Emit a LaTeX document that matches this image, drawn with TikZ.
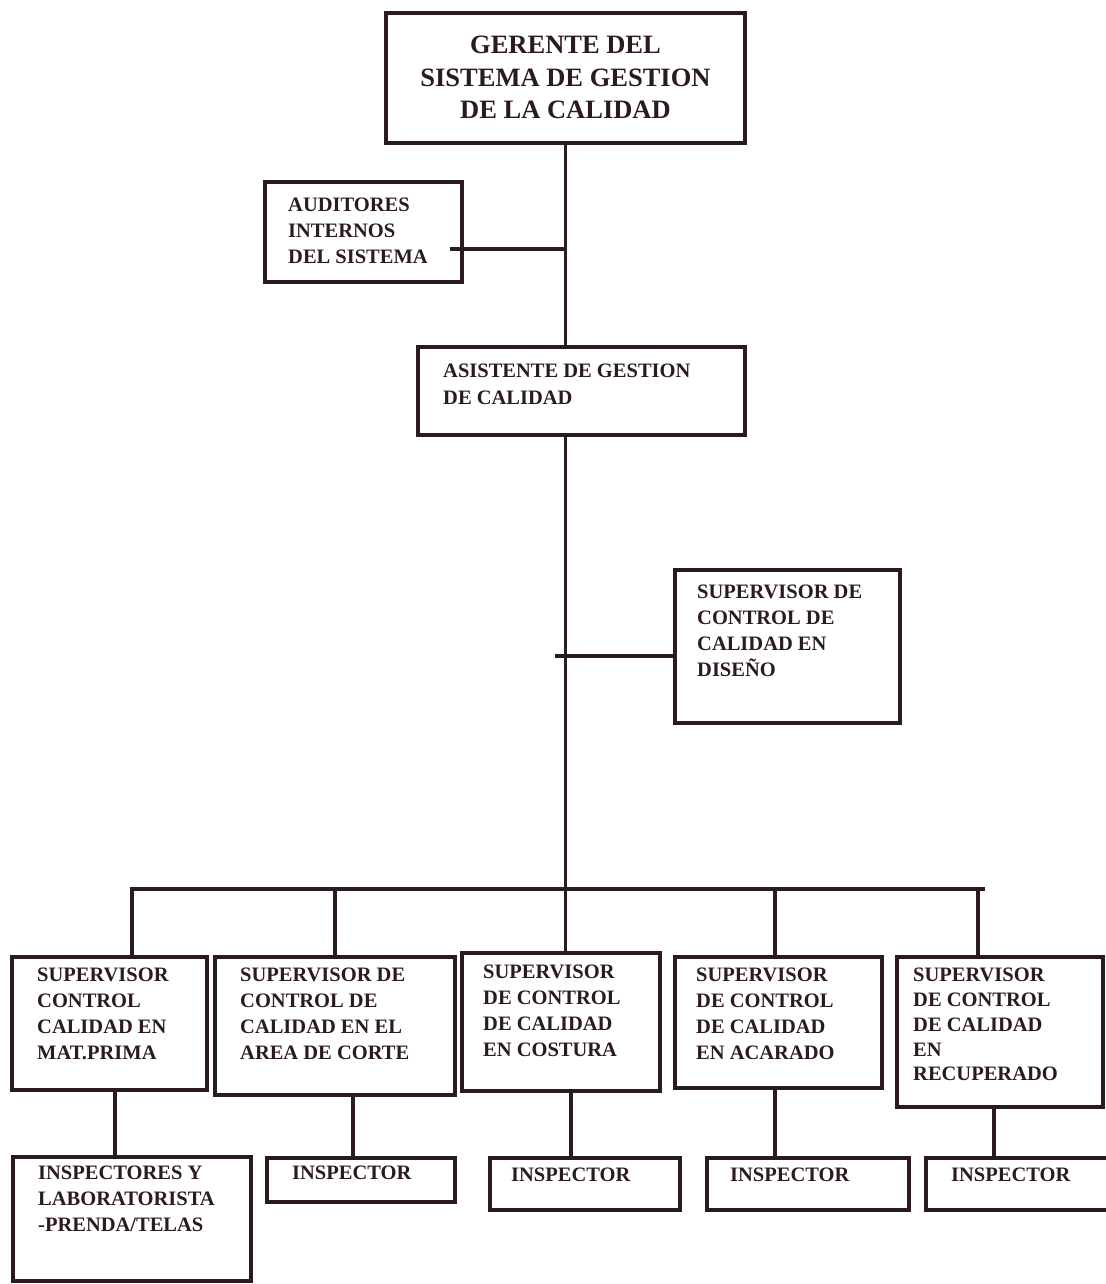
\documentclass[tikz,border=0pt]{standalone}
\usepackage{fontspec}
\setmainfont{Liberation Serif}
\usetikzlibrary{calc}
\definecolor{ink}{HTML}{2B1A24}
\begin{document}
\begin{tikzpicture}[x=1pt,y=-1pt,
  box/.style={draw=ink,line width=3.3pt,inner sep=0pt,outer sep=0pt},
  lbl/.style={text=ink,inner sep=0pt,anchor=north west,align=left,
    font=\bfseries\fontsize{20.5}{25.8}\selectfont},
  link/.style={draw=ink,line width=3.1pt}]
\useasboundingbox[fill=white] (0,0) rectangle (1105,1284);

% boxes (centre, width, height)
\node[box,minimum width=359,minimum height=130] (ger) at (565.5,78) {};
\node[box,minimum width=197,minimum height=100] (aud) at (363.5,232) {};
\node[box,minimum width=327,minimum height=88] (asis) at (581.5,391) {};
\node[box,minimum width=225,minimum height=153] (dis) at (787.5,646.5) {};
\node[box,minimum width=195,minimum height=133] (s1) at (109.5,1023.5) {};
\node[box,minimum width=240,minimum height=138] (s2) at (335,1026) {};
\node[box,minimum width=198,minimum height=138] (s3) at (561,1022) {};
\node[box,minimum width=207,minimum height=131] (s4) at (778.5,1022.5) {};
\node[box,minimum width=206,minimum height=150] (s5) at (1000,1032) {};
\node[box,minimum width=238,minimum height=124] (i1) at (132,1219) {};
\node[box,minimum width=188,minimum height=44] (i2) at (361,1180) {};
\node[box,minimum width=190,minimum height=52] (i3) at (585,1184) {};
\node[box,minimum width=202,minimum height=52] (i4) at (808,1184) {};
\node[box,minimum width=186,minimum height=52] (i5) at (1019,1184) {};

% texts
\node[lbl,anchor=north,align=center,font=\bfseries\fontsize{26.5}{32.5}\selectfont]
  (tger) at (565.5,36) {GERENTE DEL\\SISTEMA DE GESTION\\DE LA CALIDAD};
\node[lbl] (taud) at (288,198) {AUDITORES\\INTERNOS\\DEL SISTEMA};
\node[lbl,font=\bfseries\fontsize{20.5}{27}\selectfont] (tasis) at (443,364) {ASISTENTE DE GESTION\\DE CALIDAD};
\node[lbl] (tdis) at (697,585) {SUPERVISOR DE\\CONTROL DE\\CALIDAD EN\\DISEÑO};
\node[lbl] (ts1) at (37,968) {SUPERVISOR\\CONTROL\\CALIDAD EN\\MAT.PRIMA};
\node[lbl] (ts2) at (240,968) {SUPERVISOR DE\\CONTROL DE\\CALIDAD EN EL\\AREA DE CORTE};
\node[lbl] (ts3) at (483,965) {SUPERVISOR\\DE CONTROL\\DE CALIDAD\\EN COSTURA};
\node[lbl] (ts4) at (696,968) {SUPERVISOR\\DE CONTROL\\DE CALIDAD\\EN ACARADO};
\node[lbl,font=\bfseries\fontsize{20.5}{24.8}\selectfont] (ts5) at (913,968) {SUPERVISOR\\DE CONTROL\\DE CALIDAD\\EN\\RECUPERADO};
\node[lbl] (ti1) at (38,1166) {INSPECTORES Y\\LABORATORISTA\\-PRENDA/TELAS};
\node[lbl] (ti2) at (292,1166) {INSPECTOR};
\node[lbl] (ti3) at (511,1168) {INSPECTOR};
\node[lbl] (ti4) at (730,1168) {INSPECTOR};
\node[lbl] (ti5) at (951,1168) {INSPECTOR};

% main trunk and bus
\coordinate (busL) at (130,889);
\coordinate (busR) at (985,889);
\coordinate (busM) at (ger.south |- busL);
\draw[link] (ger.south) -- (asis.north -| ger.south);
\draw[link] (ger.south |- asis.south) -- (busM);
\draw[link] (busL) -- (busR);
\coordinate (audL) at (450,249);
\draw[link] (audL) -- (audL -| ger.south);
\coordinate (disL) at (555,656);
\draw[link] (disL) -- (dis.west |- disL);

% drops to the supervisors
\coordinate (d1) at (132,889);
\coordinate (d2) at (335,889);
\coordinate (d4) at (775,889);
\coordinate (d5) at (978,889);
\draw[link] (d1) -- (d1 |- s1.north);
\draw[link] (d2) -- (d2 |- s2.north);
\draw[link] (busM) -- (busM |- s3.north);
\draw[link] (d4) -- (d4 |- s4.north);
\draw[link] (d5) -- (d5 |- s5.north);

% supervisors to inspectors
\coordinate (e1) at (115,1100);
\coordinate (e2) at (353,1100);
\coordinate (e3) at (571,1100);
\coordinate (e4) at (775,1100);
\coordinate (e5) at (994,1100);
\draw[link] (e1 |- s1.south) -- (e1 |- i1.north);
\draw[link] (e2 |- s2.south) -- (e2 |- i2.north);
\draw[link] (e3 |- s3.south) -- (e3 |- i3.north);
\draw[link] (e4 |- s4.south) -- (e4 |- i4.north);
\draw[link] (e5 |- s5.south) -- (e5 |- i5.north);
\end{tikzpicture}
\end{document}
